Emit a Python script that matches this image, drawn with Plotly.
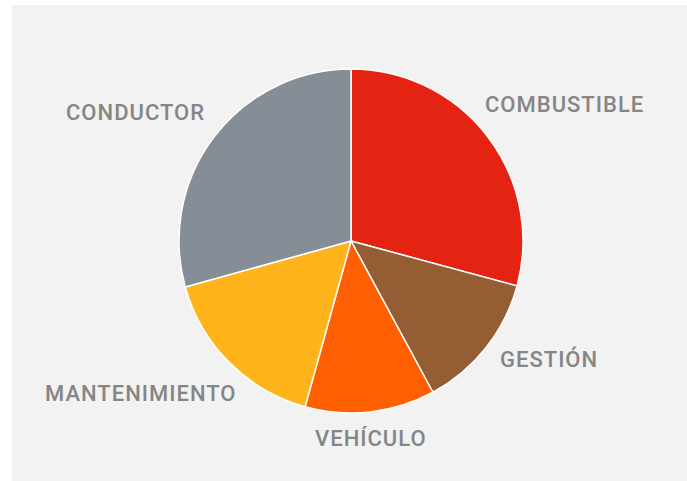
import plotly.graph_objects as go

categories = ["COMBUSTIBLE", "GESTIÓN", "VEHÍCULO", "MANTENIMIENTO", "CONDUCTOR"]
values = [29.2, 12.9, 12.2, 16.4, 29.3]
colors = ["#e42313", "#955d34", "#ff5f00", "#ffb41c", "#858e97"]
label_pos = {  # label centers in paper fraction (x, y)
    "COMBUSTIBLE": (564.5 / 687, 1 - 104 / 481),
    "GESTIÓN": (549 / 687, 1 - 359 / 481),
    "VEHÍCULO": (371 / 687, 1 - 438 / 481),
    "MANTENIMIENTO": (140 / 687, 1 - 393 / 481),
    "CONDUCTOR": (135 / 687, 1 - 113 / 481),
}

fig = go.Figure(go.Pie(
    labels=categories,
    values=values,
    sort=False,
    direction="clockwise",
    rotation=0,
    marker=dict(colors=colors, line=dict(color="white", width=1.5)),
    textinfo="none",
    hoverinfo="label+percent",
    showlegend=False,
    domain=dict(x=[179 / 687, 523 / 687], y=[1 - 413 / 481, 1 - 69 / 481]),
))

for c in categories:
    x, y = label_pos[c]
    fig.add_annotation(x=x, y=y, xref="paper", yref="paper",
                       text=f'<span style="letter-spacing:1px">{c}</span>', showarrow=False,
                       xanchor="center", yanchor="middle",
                       font=dict(family="Roboto", size=22, color="#858585", weight=500))

fig.add_shape(type="rect", xref="paper", yref="paper", x0=12 / 687, x1=1.01, y0=-0.01, y1=1 - 5 / 481,
              fillcolor="#f1f2f1", line=dict(width=0), layer="below")

fig.update_layout(width=687, height=481, margin=dict(l=0, r=0, t=0, b=0),
                  paper_bgcolor="white")
fig.write_html("out.html", config={"displayModeBar": False},
               post_script="document.body.style.margin='0';")
